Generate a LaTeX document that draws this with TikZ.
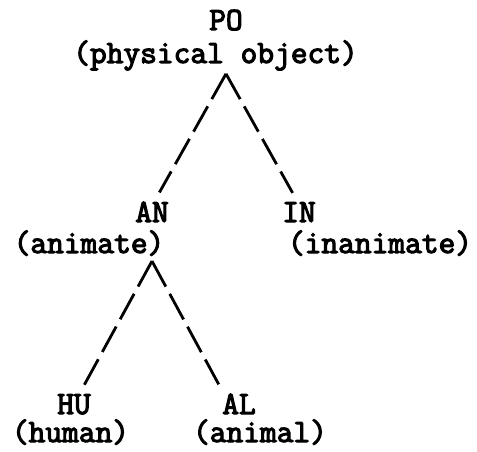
\documentclass[tikz,border=0pt]{standalone}
\usepackage{fontspec}
\setmonofont[AutoFakeBold=3.5]{Latin Modern Mono}
\begin{document}
\begin{tikzpicture}[x=1pt,y=-1pt,line width=2.8pt,
  every node/.style={font=\ttfamily\bfseries\fontsize{32.5}{34}\selectfont,inner sep=0pt,anchor=base},
  branch/.style={dash pattern=on 29pt off 8.3pt,shorten >=9pt}]
\useasboundingbox (0,0) rectangle (477,452);
\node (PO) at (226,30) {PO};
\node (POd) at (215.5,63) {(physical object)};
\node (AN) at (152,222) {AN};
\node (ANd) at (89,253) {(animate)};
\node (IN) at (299,222) {IN};
\node (INd) at (380,253) {(inanimate)};
\node (HU) at (74,414) {HU};
\node (HUd) at (70.5,442) {(human)};
\node (AL) at (239,414) {AL};
\node (ALd) at (260,442) {(animal)};
\draw[branch] ([yshift=-2pt]PO |- POd.south) -- ([xshift=3pt]AN.north);
\draw[branch] ([yshift=-2pt]PO |- POd.south) -- ([xshift=-2pt]IN.north);
\draw[branch] ([yshift=-4pt]AN |- ANd.south) -- ([xshift=6pt]HU.north);
\draw[branch] ([yshift=-4pt]AN |- ANd.south) -- ([xshift=-16pt]AL.north);
\end{tikzpicture}
\end{document}
